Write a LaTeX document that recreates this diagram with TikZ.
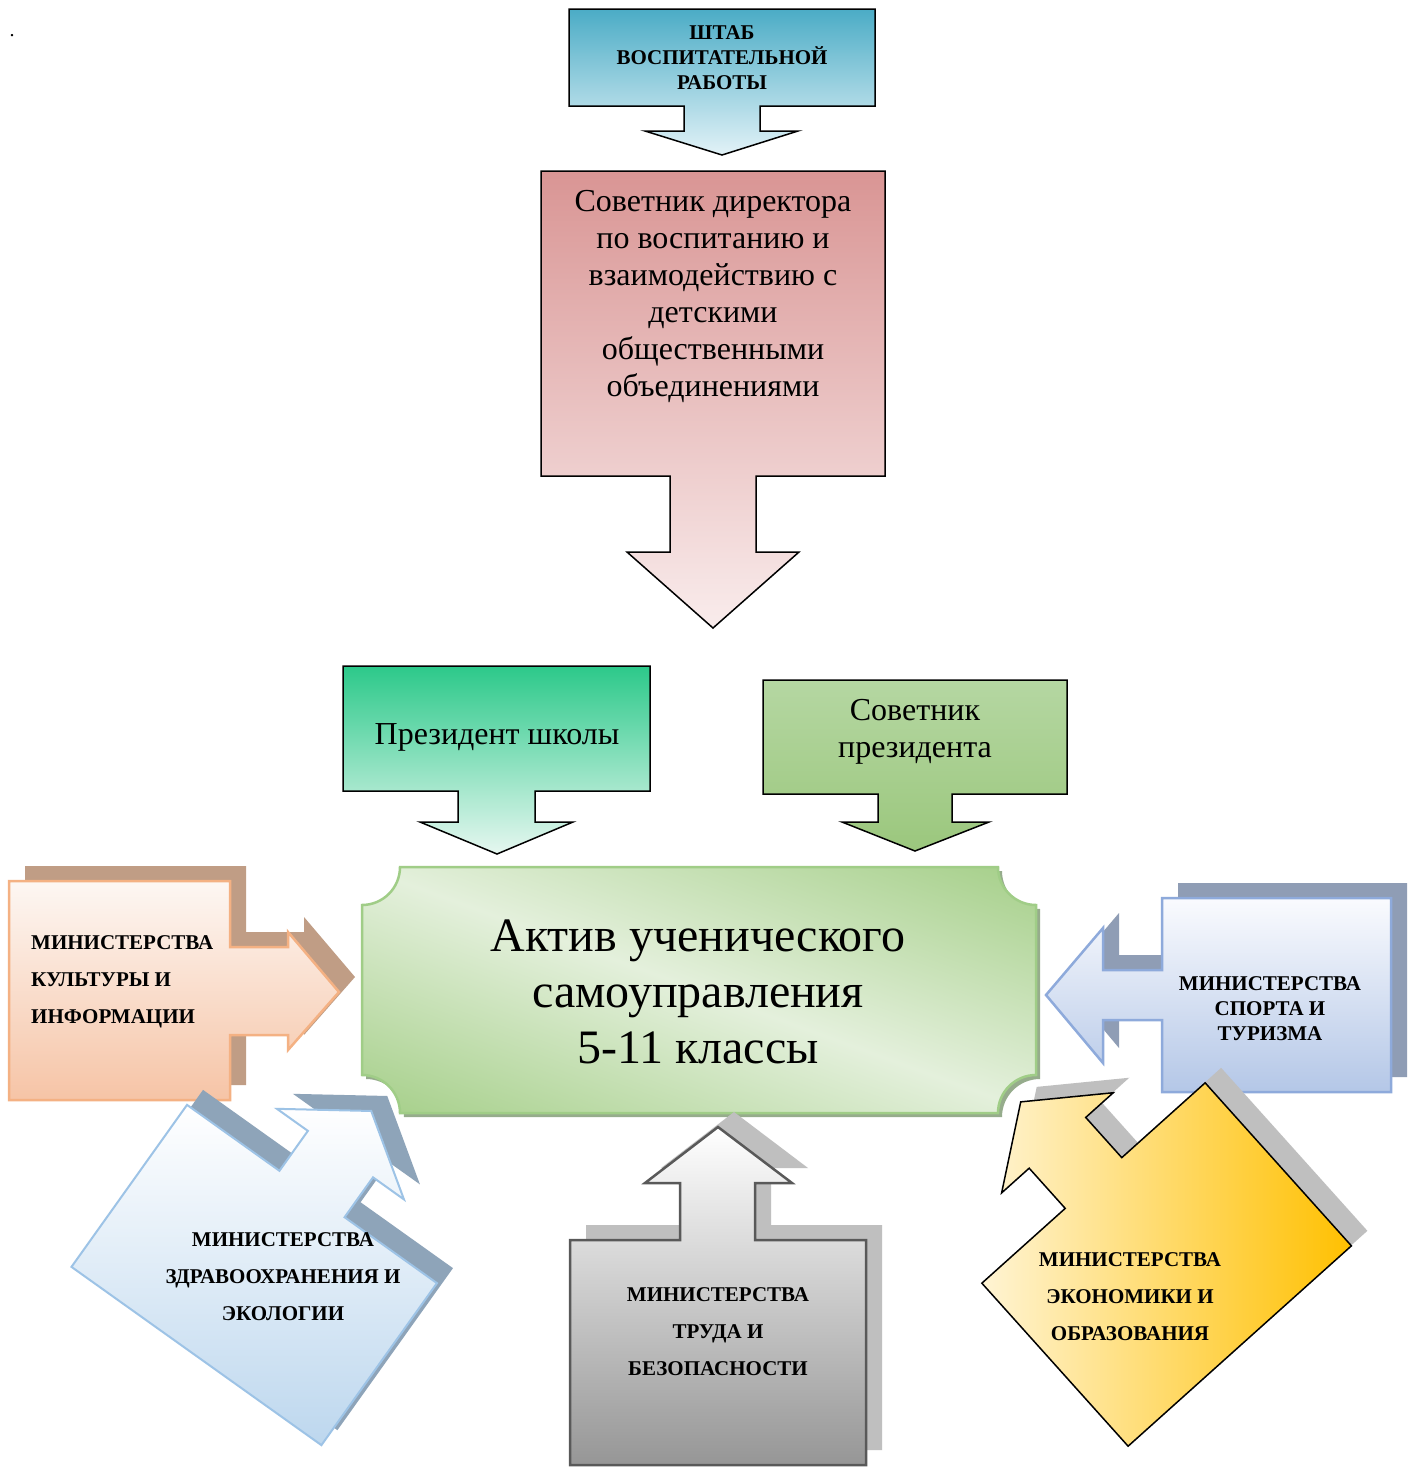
\documentclass[tikz,border=0pt]{standalone}
\usepackage{fontspec}
\setmainfont{Liberation Serif}
\definecolor{shtabTop}{RGB}{75,172,198}
\definecolor{shtabBot}{RGB}{226,242,247}
\definecolor{sovTop}{RGB}{217,149,148}
\definecolor{sovBot}{RGB}{249,236,236}
\definecolor{presTop}{RGB}{44,201,138}
\definecolor{presBot}{RGB}{230,247,240}
\definecolor{spTop}{RGB}{181,215,162}
\definecolor{spBot}{RGB}{155,199,125}
\definecolor{plqDark}{RGB}{169,209,142}
\definecolor{plqLight}{RGB}{228,240,220}
\definecolor{plqLine}{RGB}{160,205,135}
\definecolor{plqShadow}{RGB}{150,172,140}
\definecolor{culTop}{RGB}{253,247,243}
\definecolor{culBot}{RGB}{246,196,166}
\definecolor{culLine}{RGB}{244,177,131}
\definecolor{culShadow}{RGB}{192,157,133}
\definecolor{spoTop}{RGB}{250,251,254}
\definecolor{spoBot}{RGB}{180,199,231}
\definecolor{spoLine}{RGB}{142,170,219}
\definecolor{spoShadow}{RGB}{143,157,181}
\definecolor{labTop}{RGB}{255,255,255}
\definecolor{labBot}{RGB}{150,150,150}
\definecolor{labLine}{RGB}{89,89,89}
\definecolor{grayShadow}{RGB}{191,191,191}
\definecolor{hlTop}{RGB}{255,255,255}
\definecolor{hlBot}{RGB}{189,215,238}
\definecolor{hlLine}{RGB}{157,195,230}
\definecolor{hlShadow}{RGB}{142,164,185}
\definecolor{ecLeft}{RGB}{255,244,212}
\definecolor{ecRight}{RGB}{255,192,0}
\pgfdeclareverticalshading{plaqueshade}{100bp}{color(0bp)=(plqDark); color(20bp)=(plqDark); color(50bp)=(plqLight); color(80bp)=(plqDark); color(100bp)=(plqDark)}
\newcommand{\hlpath}{(-153.5,0) -- (-40,0) -- (-40,-49) -- (-78,-49) -- (0,-102) -- (78,-49) -- (40,-49) -- (40,0) -- (153.5,0) -- (153.5,199) -- (-153.5,199) -- cycle}
\newcommand{\ecpath}{(-150,0) -- (-38,0) -- (-38,-54) -- (-75,-54) -- (0,-109) -- (75,-54) -- (38,-54) -- (38,0) -- (150,0) -- (150,219) -- (-150,219) -- cycle}
\tikzset{
  blackedge/.style={draw=black, line width=1.5pt, line join=miter},
  capsbold/.style={font=\fontsize{21}{37}\selectfont\bfseries, align=center, inner sep=0pt},
  capsboldtight/.style={font=\fontsize{21}{25}\selectfont\bfseries, align=center, inner sep=0pt},
  bigtext/.style={font=\fontsize{32}{37}\selectfont, align=center, inner sep=0pt},
}
\begin{document}
\begin{tikzpicture}[x=1pt,y=-1pt]
\useasboundingbox (0,0) rectangle (1415,1467);
\fill[white] (0,0) rectangle (1415,1467);

\node[font=\fontsize{20}{24}\selectfont, inner sep=0pt] (dot) at (12,36) {.};

% ШТАБ
\path[blackedge, top color=shtabTop, bottom color=shtabBot]
  (569,9) -- (875,9) -- (875,106) -- (760,106) -- (760,131) -- (798,131) -- (722,155)
  -- (645,131) -- (684,131) -- (684,106) -- (569,106) -- cycle;
\node[capsboldtight] (shtab) at (722,58) {ШТАБ\\ВОСПИТАТЕЛЬНОЙ\\РАБОТЫ};

% Советник директора
\path[blackedge, top color=sovTop, bottom color=sovBot]
  (541,171) -- (885,171) -- (885,476) -- (756,476) -- (756,552) -- (799,552) -- (713,628)
  -- (627,552) -- (670,552) -- (670,476) -- (541,476) -- cycle;
\node[bigtext] (sovdir) at (713,296) {Советник директора\\по воспитанию и\\взаимодействию с\\детскими\\общественными\\объединениями};

% Президент школы
\path[blackedge, top color=presTop, bottom color=presBot]
  (343,666) -- (650,666) -- (650,791) -- (535,791) -- (535,822) -- (573,822) -- (497,854)
  -- (420,822) -- (458,822) -- (458,791) -- (343,791) -- cycle;
\node[bigtext] (pres) at (497,737) {Президент школы};

% Советник президента
\path[blackedge, top color=spTop, bottom color=spBot]
  (763,680) -- (1067,680) -- (1067,794) -- (952,794) -- (952,822) -- (989,822) -- (915,851)
  -- (842,822) -- (878,822) -- (878,794) -- (763,794) -- cycle;
\node[bigtext] (sovpres) at (915,732) {Советник\\президента};

% Central plaque
\fill[plqShadow] (403,871) -- (1002,871) arc[start angle=180, end angle=270, radius=38pt]
  -- (1040,1079) arc[start angle=90, end angle=180, radius=38pt]
  -- (404,1117) arc[start angle=0, end angle=90, radius=38pt]
  -- (366,909) arc[start angle=-90, end angle=0, radius=38pt] -- cycle;
\path[draw=plqLine, line width=2.5pt, shading=plaqueshade, shading angle=-20]
  (400,867) -- (998,867) arc[start angle=180, end angle=270, radius=38pt]
  -- (1036,1075) arc[start angle=90, end angle=180, radius=38pt]
  -- (400,1113) arc[start angle=0, end angle=90, radius=38pt]
  -- (362,905) arc[start angle=-90, end angle=0, radius=38pt] -- cycle;
\node[font=\fontsize{48}{56}\selectfont, align=center, inner sep=0pt] (aktiv) at (698,992) {Актив ученического\\самоуправления\\5-11 классы};

% Культура
\fill[culShadow] (25,866) -- (246,866) -- (246,932) -- (304,932) -- (304,917) -- (355,977)
  -- (304,1035) -- (304,1020) -- (246,1020) -- (246,1085) -- (25,1085) -- cycle;
\path[draw=culLine, line width=2.5pt, top color=culTop, bottom color=culBot]
  (9,881) -- (230,881) -- (230,947) -- (288,947) -- (288,932) -- (339,992)
  -- (288,1050) -- (288,1035) -- (230,1035) -- (230,1100) -- (9,1100) -- cycle;
\node[font=\fontsize{21}{37}\selectfont\bfseries, align=left, inner sep=0pt, anchor=west] (cult) at (31,982) {МИНИСТЕРСТВА\\КУЛЬТУРЫ И\\ИНФОРМАЦИИ};

% Спорт
\fill[spoShadow] (1178,883) -- (1407,883) -- (1407,1077) -- (1178,1077) -- (1178,1005)
  -- (1119,1005) -- (1119,1048) -- (1062,980) -- (1119,913) -- (1119,955) -- (1178,955) -- cycle;
\path[draw=spoLine, line width=2.5pt, top color=spoTop, bottom color=spoBot]
  (1162,898) -- (1391,898) -- (1391,1092) -- (1162,1092) -- (1162,1020)
  -- (1103,1020) -- (1103,1063) -- (1046,995) -- (1103,928) -- (1103,970) -- (1162,970) -- cycle;
\node[capsboldtight] (sport) at (1270,1009) {МИНИСТЕРСТВА\\СПОРТА И\\ТУРИЗМА};

% Труд
\fill[grayShadow] (586,1225) -- (696,1225) -- (696,1168) -- (661,1168) -- (734,1112)
  -- (808,1168) -- (771,1168) -- (771,1225) -- (882,1225) -- (882,1450) -- (586,1450) -- cycle;
\path[draw=labLine, line width=2.5pt, top color=labTop, bottom color=labBot]
  (570,1240) -- (680,1240) -- (680,1183) -- (645,1183) -- (718,1127) -- (792,1183)
  -- (755,1183) -- (755,1240) -- (866,1240) -- (866,1465) -- (570,1465) -- cycle;
\node[capsbold] (labor) at (718,1332) {МИНИСТЕРСТВА\\ТРУДА И\\БЕЗОПАСНОСТИ};

% Здравоохранение
\begin{scope}[shift={(328,1179)}, rotate=-35.5]
  \fill[hlShadow] \hlpath;
\end{scope}
\begin{scope}[shift={(312,1194)}, rotate=-35.5]
  \coordinate (h1) at (-153.5,0);
  \coordinate (h2) at (-40,0);
  \coordinate (h3) at (-40,-49);
  \coordinate (h4) at (-78,-49);
  \coordinate (h5) at (0,-102);
  \coordinate (h6) at (78,-49);
  \coordinate (h7) at (40,-49);
  \coordinate (h8) at (40,0);
  \coordinate (h9) at (153.5,0);
  \coordinate (h10) at (153.5,199);
  \coordinate (h11) at (-153.5,199);
\end{scope}
\path[draw=hlLine, line width=2pt, top color=hlTop, bottom color=hlBot]
  (h1) -- (h2) -- (h3) -- (h4) -- (h5) -- (h6) -- (h7) -- (h8) -- (h9) -- (h10) -- (h11) -- cycle;
\node[capsbold] (health) at (283,1277) {МИНИСТЕРСТВА\\ЗДРАВООХРАНЕНИЯ И\\ЭКОЛОГИИ};

% Экономика
\begin{scope}[shift={(1109.5,1168)}, rotate=41.9]
  \fill[grayShadow] \ecpath;
\end{scope}
\begin{scope}[shift={(1093.5,1183)}, rotate=41.9]
  \coordinate (e1) at (-150,0);
  \coordinate (e2) at (-38,0);
  \coordinate (e3) at (-38,-54);
  \coordinate (e4) at (-75,-54);
  \coordinate (e5) at (0,-109);
  \coordinate (e6) at (75,-54);
  \coordinate (e7) at (38,-54);
  \coordinate (e8) at (38,0);
  \coordinate (e9) at (150,0);
  \coordinate (e10) at (150,219);
  \coordinate (e11) at (-150,219);
\end{scope}
\path[blackedge, left color=ecLeft, right color=ecRight]
  (e1) -- (e2) -- (e3) -- (e4) -- (e5) -- (e6) -- (e7) -- (e8) -- (e9) -- (e10) -- (e11) -- cycle;
\node[capsbold] (econ) at (1130,1297) {МИНИСТЕРСТВА\\ЭКОНОМИКИ И\\ОБРАЗОВАНИЯ};
\end{tikzpicture}
\end{document}
